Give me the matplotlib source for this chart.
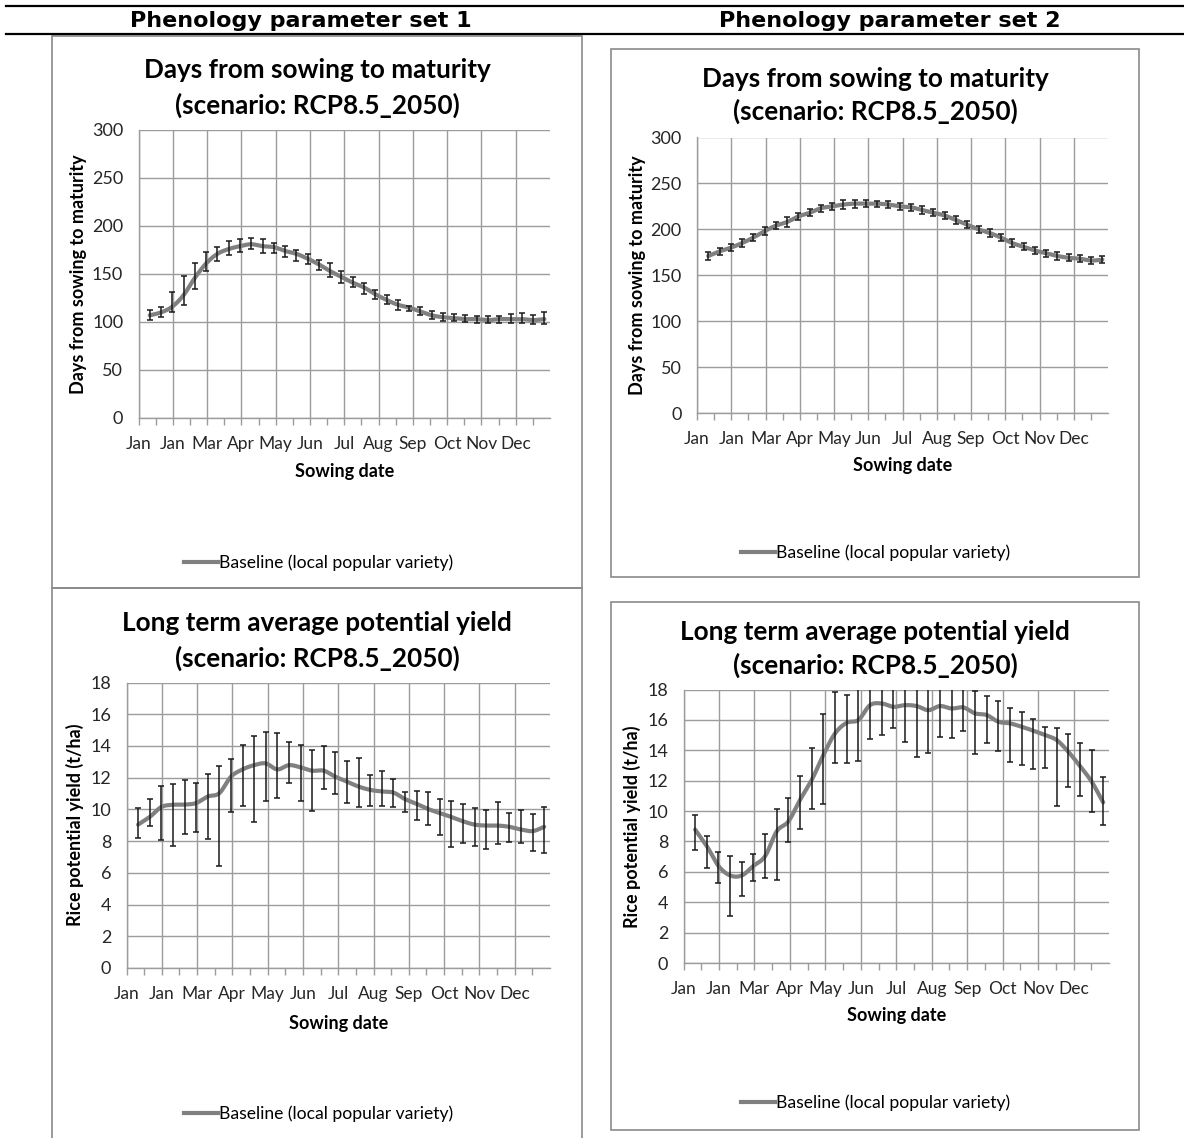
import numpy as np
import matplotlib
matplotlib.use("Agg")
import matplotlib.pyplot as plt
from matplotlib.lines import Line2D
from matplotlib.patches import Rectangle

# sowing dates (day of year, one every 10 days)
sow_day = [10, 20, 30, 40, 50, 60, 70, 80, 90, 100, 110, 120,
           130, 140, 150, 160, 170, 180, 190, 200, 210, 220, 230, 240,
           250, 260, 270, 280, 290, 300, 310, 320, 330, 340, 350, 360]
month_labels = ['Jan', 'Jan', 'Mar', 'Apr', 'May', 'Jun',
                'Jul', 'Aug', 'Sep', 'Oct', 'Nov', 'Dec']

# days from sowing to maturity, parameter set 1
days1_mean = [107, 110, 116, 128, 146, 161, 171, 176, 179, 181, 179, 178,
              174, 171, 166, 160, 153, 147, 141, 136, 129, 123, 118, 115,
              111, 107, 105, 104, 103, 103, 102, 103, 103, 103, 102, 103]
days1_low = [102, 105, 110, 118, 134, 153, 164, 170, 173, 176, 172, 172,
             168, 164, 160, 154, 147, 141, 136, 129, 124, 119, 113, 111,
             107, 103, 101, 101, 100, 99, 99, 99, 99, 99, 98, 98]
days1_high = [112, 116, 131, 148, 161, 173, 178, 184, 186, 187, 186, 182,
              179, 175, 171, 165, 161, 153, 147, 141, 133, 128, 123, 117,
              116, 111, 109, 108, 107, 106, 106, 106, 108, 109, 107, 110]

# days from sowing to maturity, parameter set 2
days2_mean = [171, 176, 180, 185, 191, 198, 204, 208, 214, 218, 223, 225,
              227, 228, 228, 228, 227, 225, 224, 221, 218, 215, 210, 205,
              200, 196, 191, 185, 181, 177, 174, 171, 169, 168, 166, 167]
days2_low = [167, 172, 176, 181, 187, 194, 200, 203, 210, 214, 219, 221,
             222, 223, 224, 224, 223, 221, 220, 217, 214, 211, 206, 201,
             196, 192, 187, 181, 177, 173, 170, 167, 165, 164, 162, 163]
days2_high = [175, 180, 184, 190, 195, 202, 208, 213, 218, 222, 227, 229,
              232, 232, 232, 231, 231, 229, 228, 225, 222, 219, 214, 209,
              204, 200, 195, 189, 185, 181, 178, 175, 173, 172, 170, 171]

# potential yield (t/ha), parameter set 1
yield1_mean = [9.04, 9.52, 10.15, 10.29, 10.30, 10.40, 10.81, 11.02, 12.06, 12.52, 12.79, 12.90,
               12.52, 12.79, 12.65, 12.44, 12.44, 12.06, 11.75, 11.44, 11.23, 11.13, 11.06, 10.65,
               10.35, 10.02, 9.77, 9.52, 9.25, 9.04, 8.98, 8.98, 8.90, 8.73, 8.63, 8.90]
yield1_low = [8.21, 8.94, 8.04, 7.69, 8.44, 8.60, 8.15, 6.44, 9.85, 10.19, 9.19, 10.56,
              10.69, 11.65, 10.50, 9.88, 11.27, 10.96, 10.40, 10.13, 10.23, 10.19, 10.15, 9.81,
              9.31, 9.00, 8.40, 7.65, 7.90, 7.69, 7.52, 7.79, 7.94, 7.85, 7.38, 7.27]
yield1_high = [10.06, 10.65, 11.48, 11.60, 11.85, 11.69, 12.21, 12.73, 13.19, 14.08, 14.60, 14.88,
               14.81, 14.23, 14.08, 13.77, 14.02, 13.63, 13.06, 13.21, 12.17, 12.42, 11.92, 11.08,
               11.19, 11.10, 10.67, 10.56, 10.35, 10.06, 9.98, 10.44, 9.77, 9.94, 9.71, 10.13]

# potential yield (t/ha), parameter set 2
yield2_mean = [8.78, 7.69, 6.39, 5.76, 5.76, 6.39, 7.03, 8.67, 9.32, 10.74, 12.05, 13.69,
               15.11, 15.81, 15.99, 16.97, 17.08, 16.86, 16.97, 16.91, 16.64, 16.91, 16.75, 16.82,
               16.43, 16.32, 15.88, 15.77, 15.55, 15.29, 15.00, 14.68, 13.91, 12.97, 11.95, 10.57]
yield2_low = [7.42, 6.24, 5.24, 3.09, 4.40, 5.41, 5.60, 5.43, 7.95, 8.85, 10.15, 10.46,
              13.15, 13.15, 13.30, 14.72, 15.00, 15.44, 14.52, 13.58, 13.85, 14.90, 14.79, 15.29,
              13.74, 14.46, 13.98, 13.21, 13.04, 12.75, 12.82, 10.33, 11.59, 10.96, 9.95, 9.07]
yield2_high = [9.76, 8.34, 7.29, 7.03, 6.63, 7.20, 8.47, 10.13, 10.85, 12.34, 14.13, 16.36,
               17.85, 17.61, 18.70, 19.20, 19.20, 18.30, 19.40, 20.20, 19.40, 18.90, 18.70, 18.35,
               17.89, 17.58, 17.23, 16.80, 16.49, 16.05, 15.51, 15.44, 15.05, 14.46, 14.02, 12.21]

W, H = 1184, 1138
LINE = '#808080'
GRID = '#9c9c9c'
TXT = '#262626'

plt.rcParams['font.family'] = ['Lato', 'DejaVu Sans']

fig = plt.figure(figsize=(W / 100, H / 100), dpi=100)


def fx(x):
    return x / W


def fy(y):
    return 1 - y / H


def smooth(x, y, n=16):
    # Excel style smoothed line: bezier through points (catmull-rom)
    p = np.column_stack([x, y]).astype(float)
    p = np.vstack([p[0], p, p[-1]])
    t = np.linspace(0, 1, n, endpoint=False)[:, None]
    out = []
    for i in range(1, len(p) - 2):
        p0, p1, p2, p3 = p[i - 1], p[i], p[i + 1], p[i + 2]
        c1 = p1 + (p2 - p0) / 6
        c2 = p2 - (p3 - p1) / 6
        seg = ((1 - t) ** 3) * p1 + 3 * ((1 - t) ** 2) * t * c1 + 3 * (1 - t) * t ** 2 * c2 + t ** 3 * p2
        out.append(seg)
    out.append(p[-2][None, :])
    out = np.vstack(out)
    return out[:, 0], out[:, 1]


def panel(box, mean, low, high, ylim, ystep, title, ylabel, title_x, title_y, ylab_x, xlab_y, leg_x, leg_y):
    x0, y0, x1, y1 = box
    ax = fig.add_axes([fx(x0), fy(y1), (x1 - x0) / W, (y1 - y0) / H])
    mean = np.array(mean)
    low = np.array(low)
    high = np.array(high)
    sx, sy = smooth(sow_day, mean)
    ax.plot(sx, sy, color=LINE, lw=3, solid_capstyle='round', zorder=2)
    ax.errorbar(sow_day, mean, yerr=[mean - low, high - mean], fmt='none',
                ecolor='#1a1a1a', elinewidth=1.1, capsize=2.2, capthick=1.1, zorder=3)
    ax.set_xlim(0, 365)
    ax.set_ylim(*ylim)
    ax.set_yticks(np.arange(ylim[0], ylim[1] + ystep / 2, ystep))
    month_w = 365 / 12
    ax.set_xticks([i * month_w for i in range(12)])
    ax.set_xticks([(i + 0.5) * month_w for i in range(12)], minor=True)
    ax.set_xticklabels(month_labels)
    ax.grid(True, which='major', color=GRID, lw=1.0)
    for s in ['top', 'right']:
        ax.spines[s].set_visible(False)
    for s in ['left', 'bottom']:
        ax.spines[s].set_color(GRID)
        ax.spines[s].set_linewidth(1.0)
    ax.tick_params(axis='y', length=0, pad=11, labelsize=13, labelcolor=TXT)
    ax.tick_params(axis='x', which='both', direction='out', length=5, width=1.0,
                   color=GRID, pad=8, labelsize=12.5, labelcolor=TXT)
    fig.text(fx(title_x), fy(title_y[0]), title[0], ha='center', va='center',
             fontsize=18.8, fontweight='bold', color='black')
    fig.text(fx(title_x), fy(title_y[1]), title[1], ha='center', va='center',
             fontsize=18.8, fontweight='bold', color='black')
    fig.text(fx(ylab_x), fy((y0 + y1) / 2), ylabel, rotation=90, ha='center', va='center',
             fontsize=13, fontweight='bold', color='black')
    fig.text(fx((x0 + x1) / 2), fy(xlab_y), 'Sowing date', ha='center', va='center',
             fontsize=13, fontweight='bold', color='black')
    fig.legend(handles=[Line2D([], [], color=LINE, lw=3)],
               labels=['Baseline (local popular variety)'],
               loc='center', bbox_to_anchor=(fx(leg_x), fy(leg_y)),
               bbox_transform=fig.transFigure, frameon=False, fontsize=12.6,
               handlelength=1.9, handletextpad=0.1)
    return ax


# chart frames
for (bx0, by0, bx1, by1) in [(52, 36, 582, 588), (52, 588, 582, 1150),
                             (611, 49, 1139, 577), (611, 602, 1139, 1130)]:
    fig.patches.append(Rectangle((fx(bx0), fy(by1)), (bx1 - bx0) / W, (by1 - by0) / H,
                                 transform=fig.transFigure, fill=False,
                                 edgecolor='#8a8a8a', lw=1.2))

# table header lines and headings
for yy in [6, 34]:
    fig.add_artist(Line2D([fx(6), 1], [fy(yy), fy(yy)], transform=fig.transFigure,
                          color='black', lw=1.6))
fig.text(fx(301), fy(21), 'Phenology parameter set 1', ha='center', va='center',
         fontsize=16, fontweight='bold', family='DejaVu Sans')
fig.text(fx(890), fy(21), 'Phenology parameter set 2', ha='center', va='center',
         fontsize=16, fontweight='bold', family='DejaVu Sans')

days_title = ['Days from sowing to maturity', '(scenario: RCP8.5_2050)']
yield_title = ['Long term average potential yield', '(scenario: RCP8.5_2050)']

panel((138.5, 130, 550, 418), days1_mean, days1_low, days1_high, (0, 300), 50,
      days_title, 'Days from sowing to maturity', 317, (70, 105), 78.5, 472, 319, 563)
panel((697, 137.5, 1108, 413), days2_mean, days2_low, days2_high, (0, 300), 50,
      days_title, 'Days from sowing to maturity', 875, (79, 111), 637, 465, 876, 552.5)
panel((126.5, 682.5, 550, 968), yield1_mean, yield1_low, yield1_high, (0, 18), 2,
      yield_title, 'Rice potential yield (t/ha)', 317, (623, 658), 74.5, 1023, 319, 1114)
panel((683.5, 689.5, 1109, 963), yield2_mean, yield2_low, yield2_high, (0, 18), 2,
      yield_title, 'Rice potential yield (t/ha)', 875, (632, 665), 631.5, 1015, 876, 1103)

fig.savefig('out.png', dpi=100)
